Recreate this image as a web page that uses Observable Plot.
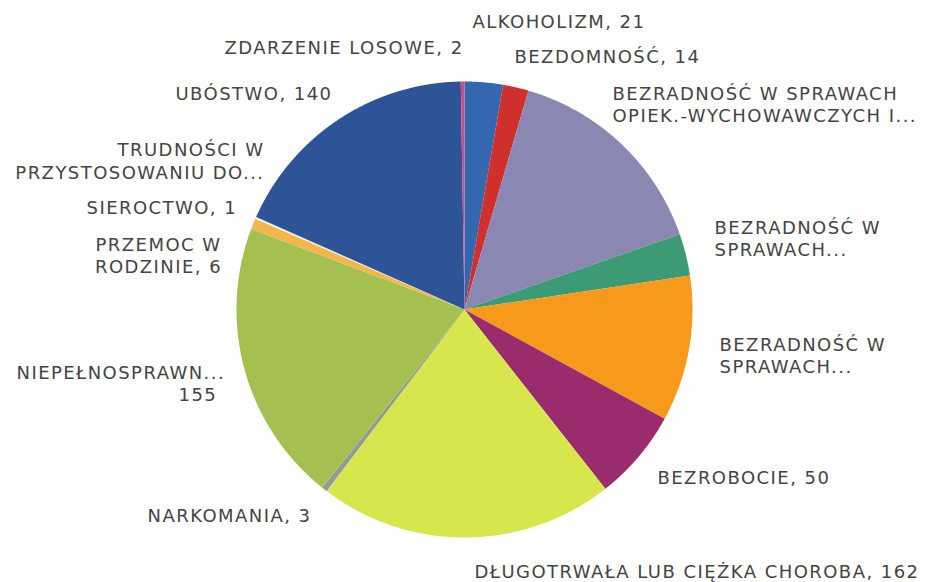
<!DOCTYPE html>
<html>
<head>
<meta charset="utf-8">
<script src="https://cdn.jsdelivr.net/npm/d3@7"></script>
<script src="https://cdn.jsdelivr.net/npm/@observablehq/plot@0.6"></script>
<style>
  html, body { margin: 0; padding: 0; background: #fff; }
  #chart svg { display: block; }
</style>
</head>
<body>
<div id="chart"></div>
<script>
// ---- data ----
const categories = [
  "Alkoholizm", "Bezdomność", "Bezradność opiek.-wychowawcza", "Bezradność w sprawach (2)",
  "Bezradność w sprawach (3)", "Bezrobocie", "Długotrwała lub ciężka choroba", "Narkomania",
  "Niepełnosprawność", "Przemoc w rodzinie", "Sieroctwo", "Trudności w przystosowaniu",
  "Ubóstwo", "Zdarzenie losowe"
];
const values = [21, 14, 117, 23, 80, 50, 162, 3, 155, 6, 1, 0, 140, 2];
const labels = [
  "ALKOHOLIZM, 21",
  "BEZDOMNOŚĆ, 14",
  "BEZRADNOŚĆ W SPRAWACH\nOPIEK.-WYCHOWAWCZYCH I...",
  "BEZRADNOŚĆ W\nSPRAWACH...",
  "BEZRADNOŚĆ W\nSPRAWACH...",
  "BEZROBOCIE, 50",
  "DŁUGOTRWAŁA LUB CIĘŻKA CHOROBA, 162",
  "NARKOMANIA, 3",
  "NIEPEŁNOSPRAWN...\n155",
  "PRZEMOC W\nRODZINIE, 6",
  "SIEROCTWO, 1",
  "TRUDNOŚCI W\nPRZYSTOSOWANIU DO...",
  "UBÓSTWO, 140",
  "ZDARZENIE LOSOWE, 2"
];
const colors = [
  "#3566b0", "#d0302c", "#8a87b3", "#3c9a74", "#f79a1c", "#9a2b6c", "#d8e64e",
  "#8f9c96", "#a4c050", "#f2b64c", "#f4f2e8", "#c9c9c9", "#2d5496", "#c8508a"
];

// ---- layout (pixels) ----
const W = 928, H = 582;
const cx = 464, cy = 309, R = 228;
// label line placement: [slice index, line number, x, top y, anchor]
const labelLayout = [
  [0, 0, 472, 15, "start"],
  [1, 0, 514, 50, "start"],
  [2, 0, 612, 87, "start"], [2, 1, 612, 109, "start"],
  [3, 0, 714, 221, "start"], [3, 1, 714, 243, "start"],
  [4, 0, 719, 338, "start"], [4, 1, 719, 360, "start"],
  [5, 0, 657, 471, "start"],
  [6, 0, 474, 565, "start"],
  [7, 0, 147, 509, "start"],
  [8, 0, 16, 366, "start"], [8, 1, 178, 388, "start"],
  [9, 0, 158, 238, "middle"], [9, 1, 158, 260, "middle"],
  [10, 0, 86, 201, "start"],
  [11, 0, 264, 143, "end"], [11, 1, 264, 166, "end"],
  [12, 0, 175, 87, "start"],
  [13, 0, 224, 41, "start"]
];

// ---- slice polygons from d3.pie ----
const table = categories.map((c, i) => ({category: c, value: values[i]}));
const arcs = d3.pie().sort(null).value(d => d.value).startAngle(0).endAngle(2 * Math.PI)(table);
const pts = [];
for (const a of arcs) {
  if (a.endAngle - a.startAngle <= 0) continue;
  const cat = a.data.category;
  pts.push({category: cat, x: cx, y: cy});
  const n = Math.max(2, Math.ceil((a.endAngle - a.startAngle) / (Math.PI / 720)));
  for (let k = 0; k <= n; k++) {
    const t = a.startAngle + (a.endAngle - a.startAngle) * k / n;
    pts.push({category: cat, x: cx + R * Math.sin(t), y: cy - R * Math.cos(t)});
  }
}

const labelRows = labelLayout.map(([i, line, x, y, anchor]) => ({
  text: labels[i].split("\n")[line], x, y, anchor
}));

const chart = Plot.plot({
  width: W,
  height: H,
  margin: 0,
  x: {domain: [0, W], range: [0, W], axis: null},
  y: {domain: [0, H], range: [0, H], axis: null},
  color: {domain: categories, range: colors},
  style: {fontFamily: "'DejaVu Sans', sans-serif", background: "#fff"},
  marks: [
    Plot.line(pts, {x: "x", y: "y", z: "category", fill: "category", stroke: null, curve: "linear-closed"}),
    ...["start", "middle", "end"].map(anchor =>
      Plot.text(labelRows.filter(d => d.anchor === anchor), {
        x: "x", y: "y", text: "text", textAnchor: anchor, lineAnchor: "top",
        fontSize: 18, fill: "#444444"
      })
    )
  ]
});
chart.querySelectorAll("text").forEach(t => t.style.letterSpacing = "1.45px");
document.getElementById("chart").appendChild(chart);
</script>
</body>
</html>
